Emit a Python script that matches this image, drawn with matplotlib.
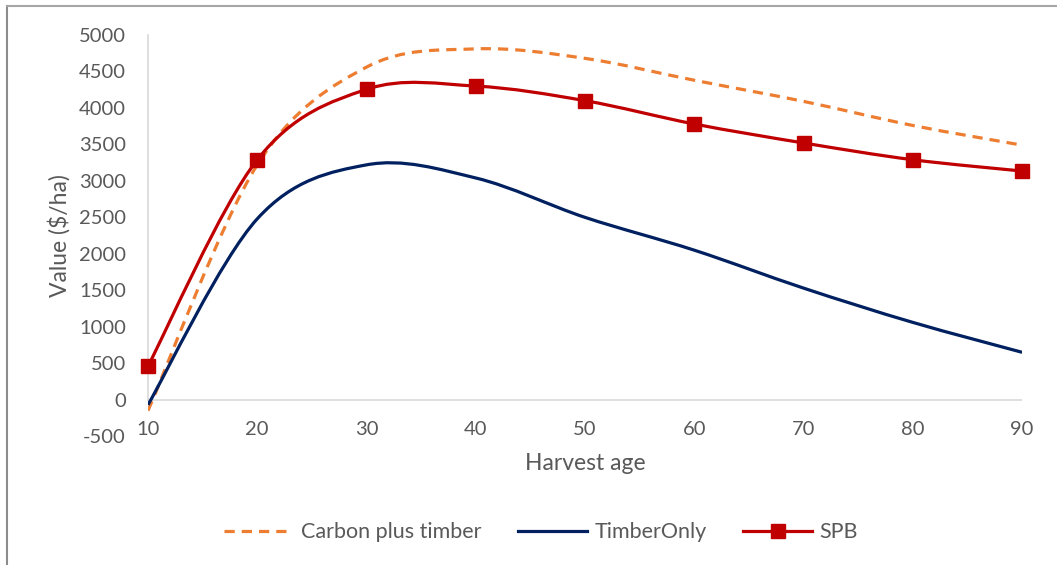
import matplotlib.pyplot as plt
from matplotlib.path import Path
from matplotlib.patches import PathPatch
from matplotlib.lines import Line2D

# harvest age (years)
ages = [10, 20, 30, 40, 50, 60, 70, 80, 90]
# value ($/ha)
carbon_plus_timber = [-150, 3220, 4560, 4810, 4680, 4380, 4090, 3760, 3490]
timber_only = [-70, 2480, 3220, 3040, 2500, 2050, 1530, 1060, 650]
spb = [460, 3290, 4255, 4300, 4100, 3780, 3520, 3290, 3135]

yticks = list(range(-500, 5001, 500))

TEXT = '#595959'
plt.rcParams['font.family'] = ['Lato', 'DejaVu Sans']
plt.rcParams['axes.unicode_minus'] = False


def smooth_path(xs, ys):
    # Excel-style smoothed line: cubic bezier through every point
    pts = list(zip(xs, ys))
    verts = [pts[0]]
    codes = [Path.MOVETO]
    n = len(pts)
    for i in range(n - 1):
        p0 = pts[max(i - 1, 0)]
        p1 = pts[i]
        p2 = pts[i + 1]
        p3 = pts[min(i + 2, n - 1)]
        c1 = (p1[0] + (p2[0] - p0[0]) / 6, p1[1] + (p2[1] - p0[1]) / 6)
        c2 = (p2[0] - (p3[0] - p1[0]) / 6, p2[1] - (p3[1] - p1[1]) / 6)
        verts += [c1, c2, p2]
        codes += [Path.CURVE4] * 3
    return Path(verts, codes)


fig = plt.figure(figsize=(10.57, 5.65), dpi=100)
ax = fig.add_axes([0.140, 0.228, 0.827, 0.710])

ax.add_patch(PathPatch(smooth_path(ages, carbon_plus_timber), fill=False,
                       edgecolor='#ED7D31', linewidth=2.3, linestyle=(0, (3.2, 2.2)),
                       capstyle='butt', zorder=3))
ax.add_patch(PathPatch(smooth_path(ages, timber_only), fill=False,
                       edgecolor='#002060', linewidth=2.3, zorder=3))
ax.add_patch(PathPatch(smooth_path(ages, spb), fill=False,
                       edgecolor='#C00000', linewidth=2.3, zorder=4))
ax.plot(ages, spb, linestyle='none', marker='s', markersize=10,
        color='#C00000', zorder=5, clip_on=False)

ax.set_xlim(10, 90)
ax.set_ylim(-500, 5000)
ax.set_yticks(yticks)
ax.set_xticks(ages)
ax.axhline(0, color='#d9d9d9', linewidth=1.2, zorder=1)

for side in ['top', 'right', 'bottom']:
    ax.spines[side].set_visible(False)
ax.spines['left'].set_color('#d9d9d9')
ax.spines['left'].set_linewidth(1.2)
ax.spines['left'].set_bounds(0, 5000)

ax.tick_params(axis='both', length=0, labelsize=14.5, labelcolor=TEXT)
ax.tick_params(axis='y', pad=16)
ax.tick_params(axis='x', pad=-11)

ax.set_xlabel('Harvest age', fontsize=16.5, color=TEXT, labelpad=11)
ax.set_ylabel('Value ($/ha)', fontsize=16.5, color=TEXT, labelpad=6)

handles = [
    Line2D([], [], color='#ED7D31', linewidth=2.3, linestyle=(0, (3.2, 2.2))),
    Line2D([], [], color='#002060', linewidth=2.3),
    Line2D([], [], color='#C00000', linewidth=2.3, marker='s', markersize=10),
]
fig.legend(handles, ['Carbon plus timber', 'TimberOnly', 'SPB'],
           loc='center', bbox_to_anchor=(0.512, 0.058), ncol=3, frameon=False,
           fontsize=15.5, labelcolor=TEXT, handlelength=3.2, columnspacing=1.7,
           handletextpad=0.35)

# outer chart frame
fig.add_artist(Line2D([7 / 1057, 7 / 1057], [0, 1 - 6 / 565],
                      transform=fig.transFigure, color='#8c8c8c', linewidth=1.5))
fig.add_artist(Line2D([7 / 1057, 1], [1 - 6 / 565, 1 - 6 / 565],
                      transform=fig.transFigure, color='#a6a6a6', linewidth=1.5))

fig.savefig('out.png', dpi=100)
